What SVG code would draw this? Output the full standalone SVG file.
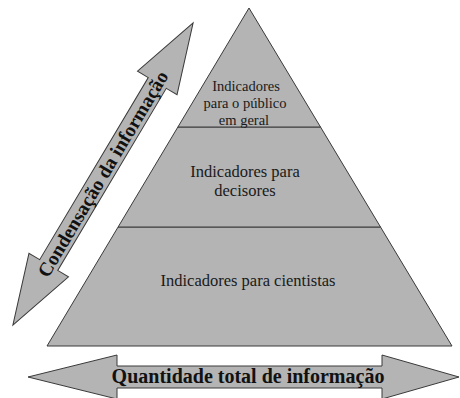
<svg xmlns="http://www.w3.org/2000/svg" width="460" height="398" viewBox="0 0 460 398">
<style>
.layer{fill:#b4b4b4;stroke:#3a3a3a;stroke-width:1}
</style>
<rect width="460" height="398" fill="#ffffff"/>
<g id="layer-bottom">
<polygon class="layer" points="118.1,227 380.5,227 452,346 47,346"/>
<text x="248" y="286" font-size="16.5" font-family="Times New Roman" fill="#1a1a1a" text-anchor="middle">Indicadores para cientistas</text>
</g>
<g id="layer-middle">
<polygon class="layer" points="177.9,127 320.5,127 380.5,227 118.1,227"/>
<text x="245" y="177" font-size="16.5" font-family="Times New Roman" fill="#1a1a1a" text-anchor="middle">Indicadores para</text>
<text x="245" y="196" font-size="16.5" font-family="Times New Roman" fill="#1a1a1a" text-anchor="middle">decisores</text>
</g>
<g id="layer-top">
<polygon class="layer" points="249,8 320.5,127 177.9,127"/>
<text x="246" y="91" font-size="14.5" font-family="Times New Roman" fill="#1a1a1a" text-anchor="middle">Indicadores</text>
<text x="245" y="108" font-size="14.5" font-family="Times New Roman" fill="#1a1a1a" text-anchor="middle">para o público</text>
<text x="244" y="125" font-size="14.5" font-family="Times New Roman" fill="#1a1a1a" text-anchor="middle">em geral</text>
</g>
<g id="connectors">
<g id="arrow-condensacao" transform="translate(103,174) rotate(-59.2)">
<polygon class="layer" points="-176,0 -106,-23 -106,-10.5 106,-10.5 106,-23 176,0 106,23 106,10.5 -106,10.5 -106,23"/>
<text x="0" y="6.5" font-size="19.5" font-family="Times New Roman" font-weight="bold" fill="#111111" text-anchor="middle">Condensação da informação</text>
</g>
<g id="arrow-quantidade">
<polygon class="layer" points="28,377 117,355 117,366 382,366 382,355 459,377 382,399 382,388 117,388 117,399"/>
<text x="248" y="383" font-size="20" font-family="Times New Roman" font-weight="bold" fill="#111111" text-anchor="middle">Quantidade total de informação</text>
</g>
</g>
</svg>
